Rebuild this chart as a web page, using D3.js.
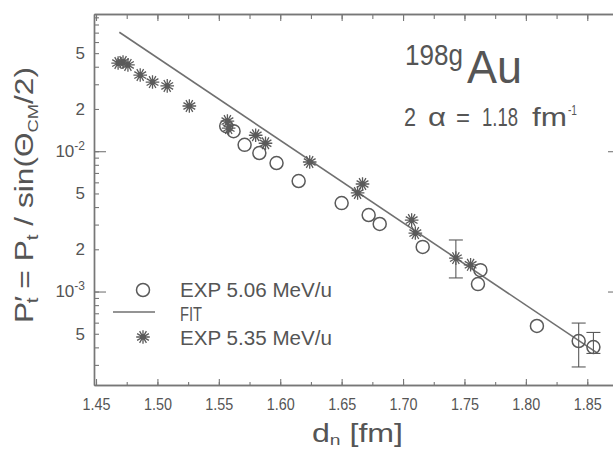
<!DOCTYPE html>
<html>
<head>
<meta charset="utf-8">
<script src="https://cdn.jsdelivr.net/npm/d3@7"></script>
<style>
  html, body { margin: 0; padding: 0; background: #fff; }
  svg { display: block; }
  text { font-family: "Liberation Sans", Arial, sans-serif; fill: #555; }
</style>
</head>
<body>
<svg id="chart" width="613" height="450"></svg>
<script>
// Transfer probability vs. distance of closest approach, 198gAu
const starD = [1.468, 1.472, 1.476, 1.486, 1.496, 1.508, 1.526, 1.557, 1.558, 1.580, 1.588, 1.624, 1.667, 1.663, 1.707, 1.710, 1.743, 1.755];
const starP = [0.0425, 0.0432, 0.0412, 0.0349, 0.0311, 0.0292, 0.0210, 0.0164, 0.0146, 0.0130, 0.0114, 0.00838, 0.00584, 0.00504, 0.00323, 0.00261, 0.00173, 0.00155];

const circleD = [1.556, 1.562, 1.571, 1.583, 1.597, 1.615, 1.650, 1.672, 1.681, 1.716, 1.763, 1.761, 1.809, 1.843, 1.855];
const circleP = [0.0151, 0.0139, 0.0111, 0.00971, 0.00824, 0.00613, 0.00427, 0.00351, 0.00303, 0.00208, 0.00142, 0.00113, 0.000568, 0.000444, 0.000402];

const errD  = [1.743, 1.843, 1.855];
const errLo = [0.00125, 0.00029, 0.000362];
const errHi = [0.00233, 0.000596, 0.000511];

const fitD = [1.469, 1.858];
const fitP = [0.0704, 0.000365];

const xMajorTicks = [1.45, 1.50, 1.55, 1.60, 1.65, 1.70, 1.75, 1.80, 1.85];
const xMinorTicks = [1.45, 1.475, 1.50, 1.525, 1.55, 1.575, 1.60, 1.625, 1.65, 1.675, 1.70, 1.725, 1.75, 1.775, 1.80, 1.825, 1.85];
const yDecades = [1e-3, 1e-2];
const yLabelTicks = [5e-2, 2e-2, 1e-2, 5e-3, 2e-3, 1e-3, 5e-4];
const yMinorTicks = [3e-4, 4e-4, 5e-4, 6e-4, 7e-4, 8e-4, 9e-4,
                     1e-3, 2e-3, 3e-3, 4e-3, 5e-3, 6e-3, 7e-3, 8e-3, 9e-3,
                     1e-2, 2e-2, 3e-2, 4e-2, 5e-2, 6e-2, 7e-2, 8e-2, 9e-2];

const svg = d3.select("#chart");
const plotLeft = 94, plotRight = 617, plotTop = 14, plotBottom = 385;
const ink = "#5a5a5a", frameInk = "#777";

const x = d3.scaleLinear().domain([1.44837, 1.87420]).range([plotLeft, plotRight]);
const y = d3.scaleLog().domain([2.157e-4, 0.09504]).range([plotBottom, plotTop]);

function styleAxis(g) {
  g.selectAll("path.domain").attr("stroke", frameInk).attr("stroke-width", 1.4);
  g.selectAll(".tick line").attr("stroke", frameInk).attr("stroke-width", 1.1);
  g.selectAll("text").attr("fill", "#555");
}

// bottom axis
svg.append("g").attr("transform", `translate(0,${plotBottom})`)
  .call(d3.axisBottom(x).tickValues(xMinorTicks).tickSize(-3).tickSizeOuter(0).tickFormat(""))
  .call(styleAxis);
const xLab = svg.append("g").attr("transform", `translate(0,${plotBottom})`)
  .call(d3.axisBottom(x).tickValues(xMajorTicks).tickSize(-6).tickSizeOuter(0).tickPadding(13).tickFormat(d3.format(".2f")))
  .call(styleAxis);
xLab.selectAll("text").attr("font-size", 17).attr("font-family", "Liberation Sans, Arial, sans-serif")
  .attr("textLength", 28).attr("lengthAdjust", "spacingAndGlyphs");

// top axis
svg.append("g").attr("transform", `translate(0,${plotTop})`)
  .call(d3.axisTop(x).tickValues(xMinorTicks).tickSize(-5).tickSizeOuter(0).tickFormat(""))
  .call(styleAxis);
svg.append("g").attr("transform", `translate(0,${plotTop})`)
  .call(d3.axisTop(x).tickValues(xMajorTicks).tickSize(-7).tickSizeOuter(0).tickFormat(""))
  .call(styleAxis);

// left axis
svg.append("g").attr("transform", `translate(${plotLeft},0)`)
  .call(d3.axisLeft(y).tickValues(yMinorTicks).tickSize(-5).tickSizeOuter(0).tickFormat(""))
  .call(styleAxis);
svg.append("g").attr("transform", `translate(${plotLeft},0)`)
  .call(d3.axisLeft(y).tickValues(yDecades).tickSize(-12).tickSizeOuter(0).tickFormat(""))
  .call(styleAxis);
const yLab = svg.append("g").attr("transform", `translate(${plotLeft},0)`)
  .call(d3.axisLeft(y).tickValues(yLabelTicks).tickSize(0).tickSizeOuter(0).tickPadding(9).tickFormat(""))
  .call(styleAxis);
yLab.select("path.domain").remove();
yLab.selectAll(".tick text").each(function(d) {
  const t = d3.select(this).attr("font-size", 17);
  const e = Math.floor(Math.log10(d) + 1e-9);
  const m = Math.round(d / Math.pow(10, e));
  if (m === 1) {
    t.append("tspan").text("10");
    t.append("tspan").attr("font-size", 12).attr("dy", -7).text("-" + (-e));
  } else {
    t.text(String(m));
  }
});

// right axis (just outside the visible area)
svg.append("g").attr("transform", `translate(${plotRight},0)`)
  .call(d3.axisRight(y).tickValues(yMinorTicks).tickSize(-4).tickSizeOuter(0).tickFormat(""))
  .call(styleAxis);
svg.append("g").attr("transform", `translate(${plotRight},0)`)
  .call(d3.axisRight(y).tickValues(yDecades).tickSize(-9).tickSizeOuter(0).tickFormat(""))
  .call(styleAxis);

// star (asterisk) marker path
function starPath(r, n) {
  const p = d3.path();
  for (let i = 0; i < n; i++) {
    const a = Math.PI * i / n;
    p.moveTo(-r * Math.cos(a), -r * Math.sin(a));
    p.lineTo(r * Math.cos(a), r * Math.sin(a));
  }
  return p.toString();
}
const STAR = starPath(6.8, 6);

// fit line
const fitLine = d3.line().x(d => x(d[0])).y(d => y(d[1]));
svg.append("path")
  .datum(fitD.map((d, i) => [d, fitP[i]]))
  .attr("d", fitLine)
  .attr("fill", "none").attr("stroke", "#707070").attr("stroke-width", 1.6);

// error bars
const eb = svg.append("g").attr("stroke", ink).attr("stroke-width", 1.1);
errD.forEach((d, i) => {
  const cx = x(d);
  eb.append("line").attr("x1", cx).attr("x2", cx).attr("y1", y(errLo[i])).attr("y2", y(errHi[i]));
  [errLo[i], errHi[i]].forEach(v => {
    eb.append("line").attr("x1", cx - 7).attr("x2", cx + 7).attr("y1", y(v)).attr("y2", y(v));
  });
});

// open circles: EXP 5.06 MeV/u
svg.append("g").selectAll("circle")
  .data(circleD.map((d, i) => [d, circleP[i]]))
  .join("circle")
  .attr("cx", d => x(d[0])).attr("cy", d => y(d[1])).attr("r", 6.5)
  .attr("fill", "none").attr("stroke", ink).attr("stroke-width", 1.5);

// asterisks: EXP 5.35 MeV/u
svg.append("g").selectAll("path")
  .data(starD.map((d, i) => [d, starP[i]]))
  .join("path")
  .attr("transform", d => `translate(${x(d[0])},${y(d[1])})`)
  .attr("d", STAR)
  .attr("fill", "none").attr("stroke", ink).attr("stroke-width", 1.3);

// legend
const lg = svg.append("g");
lg.append("circle").attr("cx", 143).attr("cy", 290).attr("r", 6.5)
  .attr("fill", "none").attr("stroke", ink).attr("stroke-width", 1.5);
lg.append("text").attr("x", 180).attr("y", 297).attr("font-size", 20)
  .attr("textLength", 152).attr("lengthAdjust", "spacingAndGlyphs").text("EXP  5.06  MeV/u");
lg.append("line").attr("x1", 113).attr("x2", 155).attr("y1", 312).attr("y2", 312)
  .attr("stroke", "#707070").attr("stroke-width", 1.6);
lg.append("text").attr("x", 180).attr("y", 321).attr("font-size", 20)
  .attr("textLength", 22).attr("lengthAdjust", "spacingAndGlyphs").text("FIT");
lg.append("path").attr("transform", "translate(143,337)").attr("d", STAR)
  .attr("fill", "none").attr("stroke", ink).attr("stroke-width", 1.3);
lg.append("text").attr("x", 180).attr("y", 345).attr("font-size", 20)
  .attr("textLength", 152).attr("lengthAdjust", "spacingAndGlyphs").text("EXP  5.35  MeV/u");

// nucleus label
svg.append("text").attr("x", 405).attr("y", 65).attr("font-size", 30)
  .attr("textLength", 58).attr("lengthAdjust", "spacingAndGlyphs").text("198g");
svg.append("text").attr("x", 467).attr("y", 83).attr("font-size", 46)
  .attr("textLength", 55).attr("lengthAdjust", "spacingAndGlyphs").text("Au");

// slope parameter
const par = [
  { t: "2", x: 404, w: 12 },
  { t: "α", x: 428, w: 18 },
  { t: "=", x: 456, w: 14 },
  { t: "1.18", x: 482, w: 36 },
  { t: "fm", x: 532, w: 35 }
];
par.forEach(p => {
  svg.append("text").attr("x", p.x).attr("y", 126).attr("font-size", 25)
    .attr("textLength", p.w).attr("lengthAdjust", "spacingAndGlyphs").text(p.t);
});
svg.append("text").attr("x", 568).attr("y", 115).attr("font-size", 14)
  .attr("textLength", 9).attr("lengthAdjust", "spacingAndGlyphs").text("-1");

// x-axis title
const xt = svg.append("text").attr("x", 312).attr("y", 442).attr("font-size", 25)
  .attr("textLength", 91).attr("lengthAdjust", "spacingAndGlyphs");
xt.append("tspan").text("d");
xt.append("tspan").attr("font-size", 15).attr("dy", 3).text("n");
xt.append("tspan").attr("dy", -3).text("  [fm]");

// y-axis title
const yt = svg.append("text").attr("transform", "translate(33,195) rotate(-90)")
  .attr("text-anchor", "middle").attr("font-size", 26)
  .attr("textLength", 256).attr("lengthAdjust", "spacingAndGlyphs");
yt.append("tspan").text("P′");
yt.append("tspan").attr("font-size", 17).attr("dx", -6).attr("dy", 5).text("t");
yt.append("tspan").attr("dy", -5).text(" = P");
yt.append("tspan").attr("font-size", 17).attr("dy", 5).text("t");
yt.append("tspan").attr("dy", -5).text(" / sin(Θ");
yt.append("tspan").attr("font-size", 15).attr("dy", 5).text("CM");
yt.append("tspan").attr("dy", -5).text("/2)");
</script>
</body>
</html>
